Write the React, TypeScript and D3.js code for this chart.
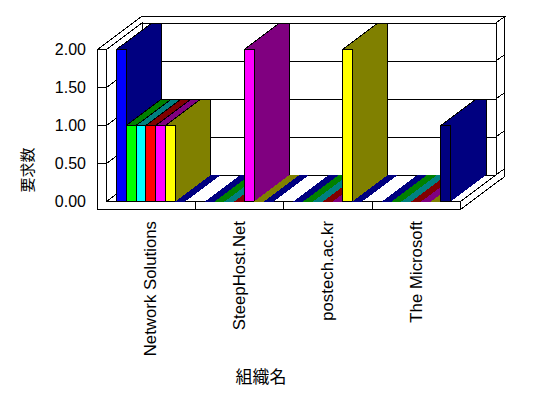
import React from 'react';
import * as d3 from 'd3';

const categories = ['Network Solutions', 'SteepHost.Net', 'postech.ac.kr', 'The Microsoft'];
const seriesKeys = ['s1', 's2', 's3', 's4', 's5', 's6', 's7'];
const series1 = [2, 0, 0, 0];
const series2 = [1, 0, 0, 0];
const series3 = [1, 0, 0, 0];
const series4 = [1, 0, 0, 0];
const series5 = [1, 2, 0, 0];
const series6 = [1, 0, 2, 0];
const series7 = [0, 0, 0, 1];
const seriesValues = [series1, series2, series3, series4, series5, series6, series7];
const seriesColors = ['#0000ff', '#00ff00', '#00ffff', '#ff0000', '#ff00ff', '#ffff00', '#000080'];
const seriesShades = ['#000080', '#008000', '#008080', '#800000', '#800080', '#808000', '#000080'];
const yTicks = [0, 0.5, 1, 1.5, 2];
const yTickLabels = ['0.00', '0.50', '1.00', '1.50', '2.00'];
const yTitle = '要求数';
const xTitle = '組織名';

export default function App() {
  const W = 548, H = 398;
  const outer = 97.5, left = 106.5, right = 460.5;
  const DX = 35.5, DY = -26.5, TH = 1.24;
  const floorBottom = 209.5;

  const x = d3.scaleBand<string>().domain(categories).range([left, right]);
  const s = d3.scaleBand<string>().domain(seriesKeys).range([0, x.bandwidth()]).paddingOuter(1);
  const y = d3.scaleLinear().domain([0, 2]).range([201.5, 49.5]);
  const yB = y(0), yT = y(2);

  const P = (px: number, py: number, d: number): [number, number] => [px + DX * d, py + DY * d];
  const poly = (pts: [number, number][]) => 'M' + pts.map(p => p[0].toFixed(2) + ',' + p[1].toFixed(2)).join('L') + 'Z';
  const line = (pts: [number, number][]) => 'M' + pts.map(p => p[0].toFixed(2) + ',' + p[1].toFixed(2)).join('L');

  const inner = yTicks.filter(t => t > 0 && t < 2);
  const font = "'Liberation Sans', Arial, sans-serif";
  const cjk = "'Noto Sans CJK JP', sans-serif";
  const st = { stroke: '#000', strokeWidth: 1, shapeRendering: 'crispEdges' as const };

  const bars: React.ReactNode[] = [];
  categories.forEach((c, ci) => {
    seriesKeys.forEach((k, si) => {
      const v = seriesValues[si][ci];
      const x0 = (x(c) as number) + (s(k) as number);
      const x1 = x0 + s.bandwidth();
      const yt = y(v);
      const key = ci + '-' + si;
      if (v > 0) {
        bars.push(
          <g key={key}>
            <path d={poly([P(x1, yt, 0), P(x1, yt, 1), P(x1, yB, 1), P(x1, yB, 0)])} fill={seriesShades[si]} shapeRendering="crispEdges" />
            <path d={poly([P(x0, yt, 0), P(x1, yt, 0), P(x1, yt, 1), P(x0, yt, 1)])} fill={seriesShades[si]} shapeRendering="crispEdges" />
            <rect x={x0} y={yt} width={x1 - x0} height={yB - yt} fill={seriesColors[si]} {...st} />
            <path d={line([P(x0, yt, 0), P(x0, yt, 1), P(x1, yt, 1), P(x1, yB, 1)])} fill="none" {...st} />
          </g>
        );
      } else {
        bars.push(
          <path key={key} d={poly([P(x0, yB, 0), P(x1, yB, 0), P(x1, yB, 1), P(x0, yB, 1)])} fill={seriesShades[si]} shapeRendering="crispEdges" />
        );
      }
    });
  });

  return (
    <svg width={W} height={H} style={{ position: 'absolute', left: 0, top: 0, background: '#fff' }}>
      <rect x={0} y={0} width={W} height={H} fill="#fff" />
      {/* top faces of left wall + back wall */}
      <path d={poly([P(outer, yT, 0), P(left, yT, 0), P(left, yT, 1), P(right, yT, 1), P(right, yT, TH), P(outer, yT, TH)])} fill="#fff" {...st} />
      {/* back wall right side face */}
      <path d={poly([P(right, yT, 1), P(right, yT, TH), P(right, yB, TH), P(right, yB, 1)])} fill="#fff" {...st} />
      {inner.map(t => (
        <path key={'bs' + t} d={line([P(right, y(t), 1), P(right, y(t), TH)])} fill="none" {...st} />
      ))}
      {/* back wall front face */}
      <path d={poly([P(left, yT, 1), P(right, yT, 1), P(right, yB, 1), P(left, yB, 1)])} fill="#fff" {...st} />
      {inner.map(t => (
        <path key={'bg' + t} d={line([P(left, y(t), 1), P(right, y(t), 1)])} fill="none" {...st} />
      ))}
      {/* left wall inner face */}
      <path d={poly([P(left, yT, 0), P(left, yT, 1), P(left, yB, 1), P(left, yB, 0)])} fill="#fff" {...st} />
      {inner.map(t => (
        <path key={'lg' + t} d={line([P(left, y(t), 0), P(left, y(t), 1)])} fill="none" {...st} />
      ))}
      {/* floor right side */}
      <path d={poly([P(right, yB, 0), P(right, yB, TH), P(right, floorBottom, TH), P(right, floorBottom, 0)])} fill="#fff" {...st} />
      {/* floor top */}
      <path d={poly([P(left, yB, 0), P(right, yB, 0), P(right, yB, 1), P(left, yB, 1)])} fill="#fff" {...st} />
      {/* front L face */}
      <path d={poly([[outer, yT], [left, yT], [left, yB], [right, yB], [right, floorBottom], [outer, floorBottom]])} fill="#fff" {...st} />
      {inner.map(t => (
        <path key={'tk' + t} d={line([[outer, y(t)], [left, y(t)]])} fill="none" {...st} />
      ))}
      {categories.slice(1).map(c => (
        <path key={'ct' + c} d={line([[x(c) as number, yB], [x(c) as number, floorBottom]])} fill="none" {...st} />
      ))}
      {bars}
      {/* y tick labels */}
      {yTicks.map((t, i) => (
        <text key={'yl' + t} x={86} y={y(t)} textAnchor="end" dominantBaseline="central" fontFamily={font} fontSize={16} fill="#000">{yTickLabels[i]}</text>
      ))}
      {/* x labels */}
      {categories.map(c => {
        const cx = (x(c) as number) + x.bandwidth() / 2;
        return (
          <text key={'xl' + c} x={cx} y={221} transform={`rotate(-90, ${cx}, 221)`} textAnchor="end" dominantBaseline="central" fontFamily={font} fontSize={16.8} fill="#000">{c}</text>
        );
      })}
      <text x={26} y={170} transform="rotate(-90, 26, 170)" textAnchor="middle" dominantBaseline="central" fontFamily={cjk} fontSize={15} fill="#000">{yTitle}</text>
      <text x={261} y={375} textAnchor="middle" dominantBaseline="central" fontFamily={cjk} fontSize={17} fill="#000">{xTitle}</text>
    </svg>
  );
}
